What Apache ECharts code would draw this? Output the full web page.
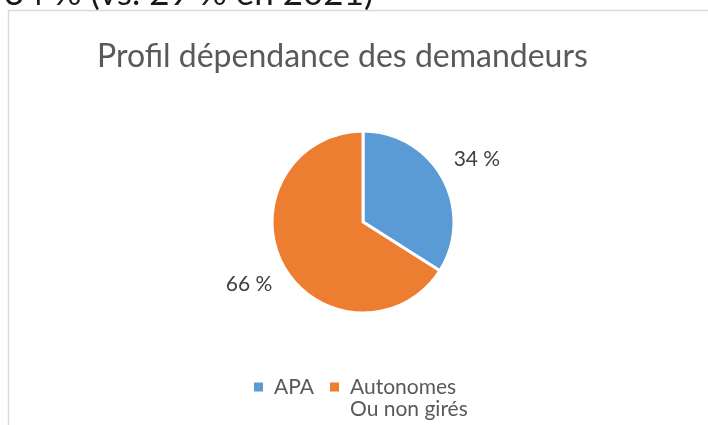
<!DOCTYPE html>
<html>
<head>
<meta charset="utf-8">
<script src="https://cdn.jsdelivr.net/npm/echarts@6/dist/echarts.min.js"></script>
<style>
  html, body { margin: 0; padding: 0; background: #fff; }
  #container { width: 708px; height: 425px; }
</style>
</head>
<body>
<div id="container"></div>
<script>
// donnees
var categories = ['APA', 'Autonomes\nOu non girés'];
var valeurs = [34, 66];
var couleurs = ['#5B9BD5', '#ED7D31'];
var titre = 'Profil dépendance des demandeurs';
var texteHaut = '34 % (vs. 29 % en 2021)';

function obtenerGrafica() {
	var dom = document.getElementById("container");
	var myChart = echarts.init(dom);

	var data = categories.map(function (name, i) {
		return { name: name, value: valeurs[i], itemStyle: { color: couleurs[i] } };
	});

	var option = {
		animation: false,
		title: {
			text: titre,
			left: 92,
			top: 36,
			textStyle: { fontFamily: 'Lato', fontSize: 32, fontWeight: 'normal', color: '#595959' }
		},
		legend: {
			left: 252,
			top: 354,
			padding: 0,
			itemWidth: 11,
			itemHeight: 11,
			itemGap: 14,
			icon: 'rect',
			// 3 lignes pour que le carre reste en face de la premiere ligne
			formatter: function (name) {
				var lignes = name.split('\n');
				while (lignes.length < 2) lignes.push('');
				return '\n' + lignes.join('\n');
			},
			textStyle: { fontFamily: 'Lato', fontSize: 21, color: '#595959', padding: [0, 0, 0, 5], lineHeight: 22 },
			data: categories
		},
		graphic: [
			{
				type: 'rect',
				shape: { x: 8.5, y: 10.5, width: 760, height: 500 },
				style: { fill: 'none', stroke: '#d9d9d9', lineWidth: 1.5 },
				silent: true
			},
			{
				type: 'text',
				left: 4,
				top: -24,
				style: { text: texteHaut, font: '35px Lato', fill: '#1a1a1a' },
				silent: true
			}
		],
		series: [{
			type: 'pie',
			center: [363, 222],
			radius: 91,
			startAngle: 90,
			clockwise: true,
			avoidLabelOverlap: false,
			itemStyle: { borderColor: '#fff', borderWidth: 3 },
			label: {
				show: true,
				position: 'outside',
				formatter: '{c} %',
				fontFamily: 'Lato',
				fontSize: 21,
				color: '#404040'
			},
			labelLine: { show: false, length: 39, length2: 0 },
			// etiquette centree sur le point au bout du trait
			labelLayout: function (p) {
				var w = p.labelRect.width;
				return { dx: p.align === 'left' ? -w / 2 - 5 : w / 2 + 5 };
			},
			data: data
		}]
	};

	myChart.setOption(option, true);
}

obtenerGrafica();
</script>
</body>
</html>
